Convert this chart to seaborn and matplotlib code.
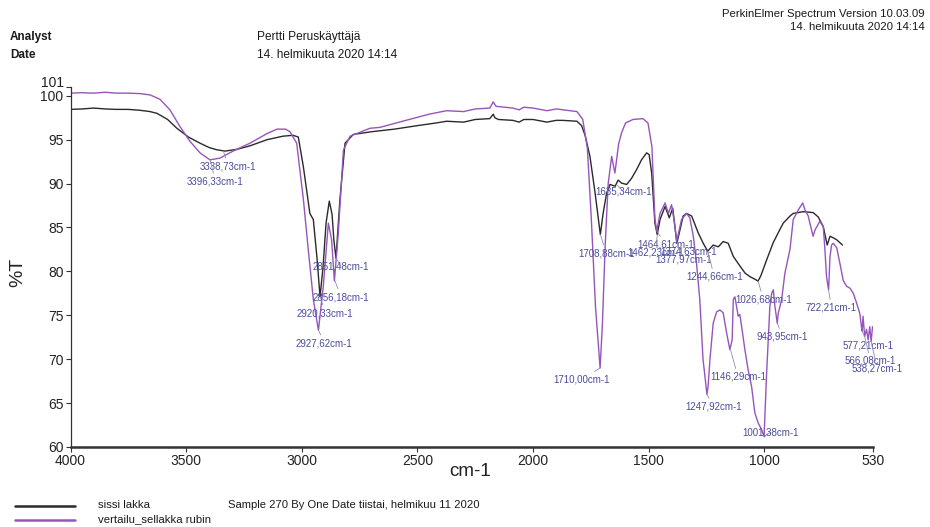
import matplotlib
matplotlib.use("Agg")
import matplotlib.pyplot as plt
from matplotlib.lines import Line2D
import seaborn as sns
import pandas as pd

sns.set_theme(style="white")
plt.rcParams["font.family"] = ["Liberation Sans", "DejaVu Sans"]
NARROW = ["Liberation Sans Narrow", "Liberation Sans", "DejaVu Sans"]

# ---- spectrum: sissi lakka ----
sissi_wn = [4000, 3950, 3900, 3850, 3800, 3750, 3700, 3656, 3626, 3580, 3540, 3490,
            3440, 3400, 3367, 3332, 3280, 3224, 3150, 3081, 3038, 3015, 2993, 2965,
            2950, 2934, 2921, 2908, 2895, 2881, 2869, 2861, 2852, 2835, 2813, 2777,
            2700, 2600, 2500, 2420, 2374, 2300, 2250, 2187, 2172, 2165, 2150, 2087,
            2060, 2040, 2000, 1960, 1940, 1900, 1871, 1810, 1790, 1775, 1754, 1732,
            1709, 1697, 1682, 1667, 1645, 1632, 1617, 1595, 1574, 1552, 1531, 1509,
            1498, 1487, 1473, 1463, 1451, 1429, 1411, 1396, 1378, 1351, 1336, 1314,
            1286, 1264, 1245, 1221, 1199, 1178, 1156, 1134, 1105, 1083, 1062, 1040,
            1027, 1015, 990, 961, 932, 918, 889, 875, 832, 789, 767, 745, 728, 716,
            700, 687, 662]
sissi_t = [98.45, 98.5, 98.6, 98.5, 98.45, 98.45, 98.35, 98.2, 98.0, 97.3, 96.3, 95.3,
           94.6, 94.1, 93.85, 93.7, 93.9, 94.3, 95.0, 95.4, 95.5, 95.3, 91.9, 86.6,
           85.9, 81.5, 77.1, 80.5, 85.5, 88.0, 86.5, 83.5, 81.5, 88.2, 94.6, 95.6,
           95.9, 96.2, 96.6, 96.9, 97.1, 97.0, 97.3, 97.4, 97.9, 97.5, 97.3, 97.2,
           97.0, 97.3, 97.3, 97.1, 97.0, 97.2, 97.2, 97.1, 96.6, 95.5, 93.1, 89.0,
           84.2, 86.6, 88.9, 89.9, 89.7, 90.4, 90.05, 89.9, 90.6, 91.6, 92.7, 93.5,
           93.3, 91.2, 85.5, 84.2, 85.9, 87.4, 86.1, 87.2, 83.2, 86.3, 86.6, 86.3,
           84.4, 83.2, 82.3, 83.0, 82.8, 83.4, 83.2, 81.7, 80.6, 79.8, 79.4, 79.1,
           78.9, 79.5, 81.3, 83.3, 84.8, 85.5, 86.3, 86.6, 86.8, 86.7, 86.2, 85.1, 83.0, 84.0,
           83.8, 83.6, 83.0]

# ---- spectrum: vertailu_sellakka rubin ----
rubin_wn = [4000, 3950, 3900, 3850, 3800, 3750, 3700, 3656, 3613, 3570, 3527, 3483,
            3440, 3397, 3354, 3297, 3224, 3150, 3107, 3070, 3051, 3022, 2993, 2972,
            2950, 2928, 2907, 2885, 2871, 2859, 2842, 2820, 2791, 2705, 2662, 2550,
            2450, 2374, 2300, 2250, 2187, 2172, 2160, 2087, 2060, 2040, 2000, 1960,
            1940, 1900, 1871, 1810, 1785, 1765, 1748, 1730, 1710, 1700, 1688, 1675,
            1660, 1646, 1630, 1617, 1600, 1568, 1525, 1503, 1486, 1473, 1465, 1451,
            1429, 1415, 1401, 1387, 1379, 1358, 1336, 1322, 1307, 1293, 1279, 1265,
            1248, 1243, 1235, 1221, 1206, 1192, 1178, 1163, 1149, 1139, 1134, 1127,
            1120, 1113, 1106, 1098, 1084, 1070, 1055, 1041, 1026, 1012, 1001, 990,
            976, 968, 961, 954, 944, 940, 925, 911, 889, 875, 853, 834, 824, 810,
            803, 789, 781, 760, 745, 738, 731, 722, 716, 709, 702, 687, 673, 659,
            644, 630, 615, 601, 587, 580, 577, 573, 566, 558, 551, 544, 538, 532]
rubin_t = [100.3, 100.35, 100.3, 100.4, 100.3, 100.3, 100.25, 100.1, 99.6, 98.4, 96.5, 94.8,
           93.5, 92.7, 92.9, 93.7, 94.6, 95.7, 96.2, 96.2, 95.9, 94.6, 88.2, 82.5,
           76.8, 73.3, 78.3, 85.5, 83.6, 78.9, 84.4, 93.8, 95.4, 96.3, 96.4, 97.2,
           97.9, 98.3, 98.2, 98.5, 98.6, 99.3, 98.8, 98.6, 98.4, 98.7, 98.6, 98.4,
           98.3, 98.5, 98.4, 98.2, 97.3, 94.0, 86.0, 76.0, 69.0, 74.0, 83.0, 90.0,
           93.1, 91.2, 94.5, 95.8, 96.9, 97.3, 97.4, 96.9, 94.2, 86.0, 84.6, 86.6,
           87.8, 86.6, 87.6, 85.3, 83.4, 85.9, 86.6, 86.1, 84.0, 80.9, 76.8, 70.0,
           66.0, 66.9, 70.0, 74.1, 75.4, 75.6, 75.3, 73.0, 71.1, 72.2, 76.8, 77.1,
           76.0, 74.9, 75.1, 73.7, 71.1, 68.8, 66.9, 63.9, 62.7, 62.0, 61.2, 68.4,
           76.0, 77.5, 77.9, 76.0, 74.1, 75.2, 76.8, 79.8, 82.5, 85.9, 87.0, 87.8, 87.0, 86.3,
           85.5, 84.0, 84.7, 85.7, 85.1, 82.5, 79.4, 77.9, 81.7, 83.0, 83.2, 82.7, 80.9, 79.0,
           78.3, 78.1, 77.5, 76.4, 75.2, 73.7, 73.2, 74.9, 72.6, 73.4, 72.2, 73.7, 72.0, 73.7]

# ---- peak labels: text, peak (cm-1, %T), label anchor (cm-1, %T) ----
peak_text = ["3338,73cm-1", "3396,33cm-1", "2851,48cm-1", "2856,18cm-1",
             "2920,33cm-1", "2927,62cm-1", "1635,34cm-1", "1708,88cm-1",
             "1710,00cm-1", "1464,61cm-1", "1462,23cm-1", "1374,63cm-1",
             "1377,97cm-1", "1244,66cm-1", "1247,92cm-1", "1146,29cm-1",
             "1026,68cm-1", "1001,38cm-1", "943,95cm-1", "722,21cm-1",
             "577,21cm-1", "566,08cm-1", "538,27cm-1"]
peak_wn = [3338.73, 3396.33, 2851.48, 2856.18, 2920.33, 2927.62, 1635.34, 1708.88,
           1710.00, 1464.61, 1462.23, 1374.63, 1377.97, 1244.66, 1247.92, 1146.29,
           1026.68, 1001.38, 943.95, 722.21, 577.21, 566.08, 538.27]
peak_t = [93.7, 92.7, 81.5, 78.9, 77.1, 73.3, 89.8, 84.2,
          69.0, 84.6, 84.2, 83.3, 83.3, 82.3, 66.0, 71.1,
          78.9, 61.2, 74.1, 77.9, 73.2, 72.6, 72.0]
label_wn = [3440, 3496, 2952, 2952, 3021, 3025, 1732, 1806,
            1914, 1551, 1594, 1451, 1473, 1339, 1343, 1235,
            1127, 1093, 1032, 820, 660, 652, 622]
label_t = [91.95, 90.24, 80.56, 77.07, 75.25, 71.83, 89.1, 82.08,
           67.65, 83.03, 82.2, 82.3, 81.3, 79.4, 64.6, 68.0,
           76.8, 61.7, 72.55, 75.85, 71.6, 69.8, 68.9]

x_ticks = [4000, 3500, 3000, 2500, 2000, 1500, 1000, 530]
y_ticks = [60, 65, 70, 75, 80, 85, 90, 95, 100, 101]

BLACK = "#2a2a2a"
PURPLE = "#9556bb"
LABEL = "#4a4c9c"
LEADER = "#8e8ea6"

W, H = 930, 527
fig = plt.figure(figsize=(W / 100, H / 100), dpi=100)
fig.patch.set_facecolor("white")
ax = fig.add_axes([70.5 / W, 1 - 447 / H, (873 - 70.5) / W, (447 - 87) / H])
ax.set_facecolor("white")

sissi = pd.DataFrame({"wn": sissi_wn, "T": sissi_t})
rubin = pd.DataFrame({"wn": rubin_wn, "T": rubin_t})
sns.lineplot(data=sissi, x="wn", y="T", ax=ax, color=BLACK, lw=1.0,
             sort=False, estimator=None)
sns.lineplot(data=rubin, x="wn", y="T", ax=ax, color=PURPLE, lw=1.0,
             sort=False, estimator=None)

for txt, pw, pt, lw_, lt in zip(peak_text, peak_wn, peak_t, label_wn, label_t):
    ax.annotate(txt, xy=(pw, pt), xytext=(lw_, lt), ha="left", va="center",
                fontsize=7, color=LABEL,
                arrowprops=dict(arrowstyle="-", color=LEADER, lw=0.6,
                                shrinkA=0, shrinkB=0))

ax.set_xlim(4000, 530)
ax.set_ylim(60, 101)
ax.set_xticks(x_ticks)
ax.set_xticklabels([str(v) for v in x_ticks])
ax.set_yticks(y_ticks)
ax.set_yticklabels([str(v) for v in y_ticks])
ax.tick_params(axis="both", which="major", direction="out", length=3.5, width=0.8,
               color="#333333", labelsize=10, labelcolor="#222222", pad=1.5,
               left=True, bottom=True)
# lift the "101" label slightly so it sits above "100"
ax.get_yticklabels()[-1].set_va("baseline")

for side in ("top", "right"):
    ax.spines[side].set_visible(False)
ax.spines["left"].set_color("#333333")
ax.spines["left"].set_linewidth(0.9)
ax.spines["bottom"].set_color("#333333")
ax.spines["bottom"].set_linewidth(1.8)

ax.set_xlabel("cm-1", fontsize=13.5, family=NARROW, color="#222222")
ax.xaxis.set_label_coords((470 - 70.5) / (873 - 70.5), (447 - 472) / 360)
ax.xaxis.label.set_va("center")
ax.set_ylabel("%T", fontsize=14, family=NARROW, color="#222222")
ax.yaxis.set_label_coords((18 - 70.5) / (873 - 70.5), (447 - 272) / 360)
ax.yaxis.label.set_va("center")

# header block
def ftext(x, y, s, **kw):
    fig.text(x / W, 1 - y / H, s, va="center", family=NARROW, color="#1a1a1a", **kw)

ftext(10, 37, "Analyst", fontsize=8.5, weight="bold")
ftext(10, 55, "Date", fontsize=8.5, weight="bold")
ftext(257, 37, "Pertti Peruskäyttäjä", fontsize=8.6)
ftext(257, 55, "14. helmikuuta 2020 14:14", fontsize=8.6)
ftext(925, 14, "PerkinElmer Spectrum Version 10.03.09", fontsize=8.2, ha="right")
ftext(925, 27, "14. helmikuuta 2020 14:14", fontsize=8.2, ha="right")

# footer legend
fig.add_artist(Line2D([15 / W, 75 / W], [1 - 506 / H, 1 - 506 / H], color=BLACK, lw=1.8))
fig.add_artist(Line2D([15 / W, 75 / W], [1 - 520 / H, 1 - 520 / H], color=PURPLE, lw=1.8))
ftext(98, 505, "sissi lakka", fontsize=8.2)
ftext(98, 519, "vertailu_sellakka rubin", fontsize=8.2)
ftext(228, 505, "Sample 270 By One Date tiistai, helmikuu 11 2020", fontsize=8.1)

fig.savefig("out.png", dpi=100, facecolor="white")
